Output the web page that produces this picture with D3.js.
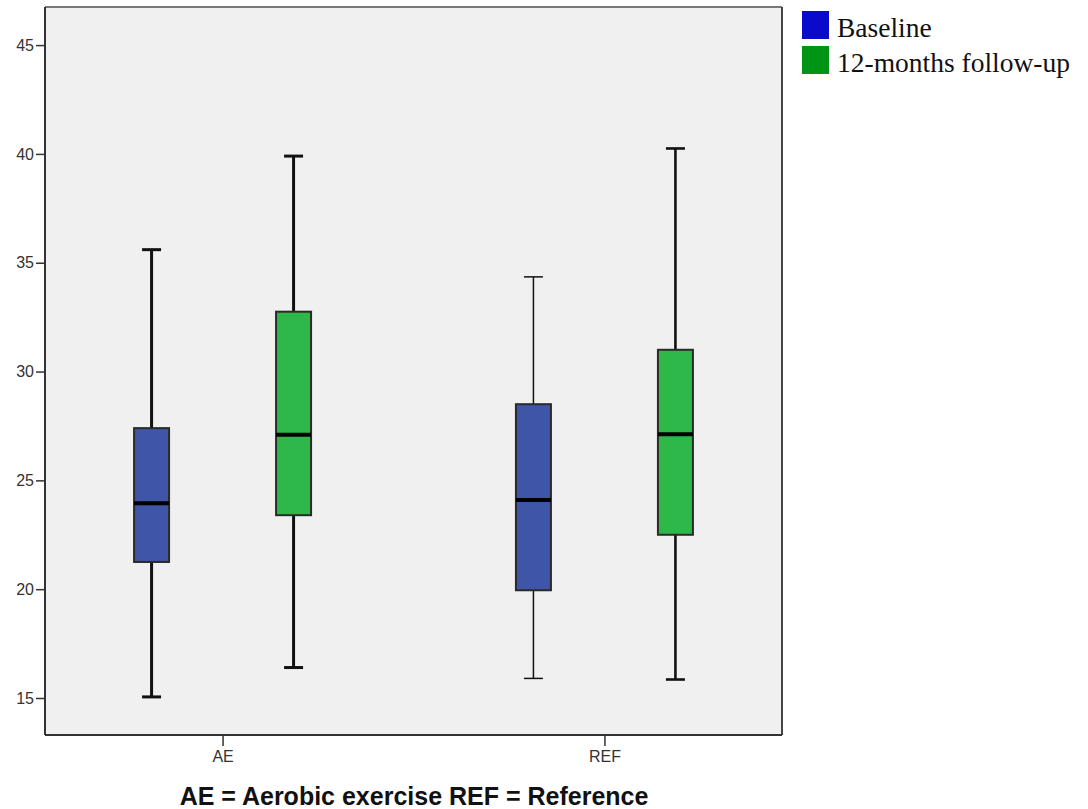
<!DOCTYPE html>
<html>
<head>
<meta charset="utf-8">
<script src="https://cdn.jsdelivr.net/npm/d3@7"></script>
<style>
  body { margin: 0; background: #fff; }
  svg { display: block; }
</style>
</head>
<body>
<svg width="1088" height="809"></svg>
<script>
// data
let groups = ['AE', 'REF'];
let series = ['Baseline', '12-months follow-up'];
let whiskerLow  = [[15.05, 16.4], [15.9, 15.85]];
let q1          = [[21.25, 23.4], [19.95, 22.5]];
let median      = [[23.95, 27.1], [24.1, 27.12]];
let q3          = [[27.4, 32.75], [28.5, 31.0]];
let whiskerHigh = [[35.6, 39.9], [34.35, 40.25]];
let yTicks = [15, 20, 25, 30, 35, 40, 45];

let boxColor = ['#3f56a8', '#2eb84a'];
let legendColor = ['#0a0acc', '#009414'];
let whiskerWidth = [[3, 3], [1.5, 2.6]];

let svg = d3.select('svg');
let plotL = 45, plotR = 782, plotT = 7, plotB = 735;

let y = d3.scaleLinear().domain([13.3, 46.75]).range([plotB, plotT]);
let x = d3.scalePoint().domain(groups).range([plotL, plotR]).padding(0.465);
let xs = d3.scalePoint().domain(series).range([-71, 71]);

// plot background
svg.append('rect')
  .attr('x', plotL).attr('y', plotT)
  .attr('width', plotR - plotL).attr('height', plotB - plotT)
  .attr('fill', '#f0f0f0');
svg.append('line').attr('x1', plotL).attr('x2', plotR).attr('y1', plotT).attr('y2', plotT)
  .attr('stroke', '#777').attr('stroke-width', 2);
svg.append('line').attr('x1', plotR).attr('x2', plotR).attr('y1', plotT).attr('y2', plotB)
  .attr('stroke', '#444').attr('stroke-width', 2);

// axes
let yAxis = svg.append('g')
  .attr('transform', 'translate(' + plotL + ',0)')
  .call(d3.axisLeft(y).tickValues(yTicks).tickSize(9).tickPadding(2));
yAxis.select('.domain').attr('stroke', '#333').attr('stroke-width', 2)
  .attr('d', 'M0,' + plotT + 'V' + plotB);
yAxis.selectAll('.tick line').attr('stroke', '#333').attr('stroke-width', 1.5);
yAxis.selectAll('text').attr('font-family', 'Liberation Sans, Arial, sans-serif')
  .attr('font-size', 16).attr('fill', '#333');

let xAxis = svg.append('g')
  .attr('transform', 'translate(0,' + plotB + ')')
  .call(d3.axisBottom(x).tickSize(11).tickPadding(5));
xAxis.select('.domain').attr('stroke', '#333').attr('stroke-width', 2)
  .attr('d', 'M' + plotL + ',0H' + plotR);
xAxis.selectAll('.tick line').attr('stroke', '#333').attr('stroke-width', 1.5);
xAxis.selectAll('text').attr('font-family', 'Liberation Sans, Arial, sans-serif')
  .attr('font-size', 16).attr('fill', '#333');

// boxes
let boxW = 35, capW = 19;
let rows = [];
groups.forEach(function(g, gi) {
  series.forEach(function(s, si) {
    rows.push({g: g, s: s, gi: gi, si: si,
      lo: whiskerLow[gi][si], q1: q1[gi][si], med: median[gi][si],
      q3: q3[gi][si], hi: whiskerHigh[gi][si]});
  });
});

let box = svg.selectAll('.box').data(rows).enter().append('g')
  .attr('class', 'box')
  .attr('transform', function(d) { return 'translate(' + (x(d.g) + xs(d.s)) + ',0)'; });

// whiskers
box.append('line')
  .attr('x1', 0).attr('x2', 0)
  .attr('y1', function(d) { return y(d.hi); }).attr('y2', function(d) { return y(d.q3); })
  .attr('stroke', '#111').attr('stroke-width', function(d) { return whiskerWidth[d.gi][d.si]; });
box.append('line')
  .attr('x1', 0).attr('x2', 0)
  .attr('y1', function(d) { return y(d.q1); }).attr('y2', function(d) { return y(d.lo); })
  .attr('stroke', '#111').attr('stroke-width', function(d) { return whiskerWidth[d.gi][d.si]; });
box.append('line')
  .attr('x1', -capW / 2).attr('x2', capW / 2)
  .attr('y1', function(d) { return y(d.hi); }).attr('y2', function(d) { return y(d.hi); })
  .attr('stroke', '#111').attr('stroke-width', function(d) { return whiskerWidth[d.gi][d.si]; });
box.append('line')
  .attr('x1', -capW / 2).attr('x2', capW / 2)
  .attr('y1', function(d) { return y(d.lo); }).attr('y2', function(d) { return y(d.lo); })
  .attr('stroke', '#111').attr('stroke-width', function(d) { return whiskerWidth[d.gi][d.si]; });

box.append('rect')
  .attr('x', -boxW / 2).attr('width', boxW)
  .attr('y', function(d) { return y(d.q3); })
  .attr('height', function(d) { return y(d.q1) - y(d.q3); })
  .attr('fill', function(d) { return boxColor[d.si]; })
  .attr('stroke', '#2a2a2a').attr('stroke-width', 2);

box.append('line')
  .attr('x1', -boxW / 2).attr('x2', boxW / 2)
  .attr('y1', function(d) { return y(d.med); }).attr('y2', function(d) { return y(d.med); })
  .attr('stroke', '#000').attr('stroke-width', 4);

// legend
let legend = svg.selectAll('.legend').data(series).enter().append('g')
  .attr('class', 'legend')
  .attr('transform', function(d, i) { return 'translate(802,' + (11 + i * 35) + ')'; });
legend.append('rect')
  .attr('width', 27).attr('height', 28)
  .attr('fill', function(d, i) { return legendColor[i]; });
legend.append('text')
  .attr('x', 35).attr('y', 26)
  .attr('font-family', 'Liberation Serif, Times New Roman, serif')
  .attr('font-size', 27.5).attr('fill', '#111')
  .text(function(d) { return d; });

// caption
svg.append('text')
  .attr('x', 414).attr('y', 805)
  .attr('text-anchor', 'middle')
  .attr('font-family', 'Liberation Sans, Arial, sans-serif')
  .attr('font-weight', 'bold').attr('font-size', 25).attr('fill', '#111')
  .text('AE = Aerobic exercise REF = Reference');
</script>
</body>
</html>
